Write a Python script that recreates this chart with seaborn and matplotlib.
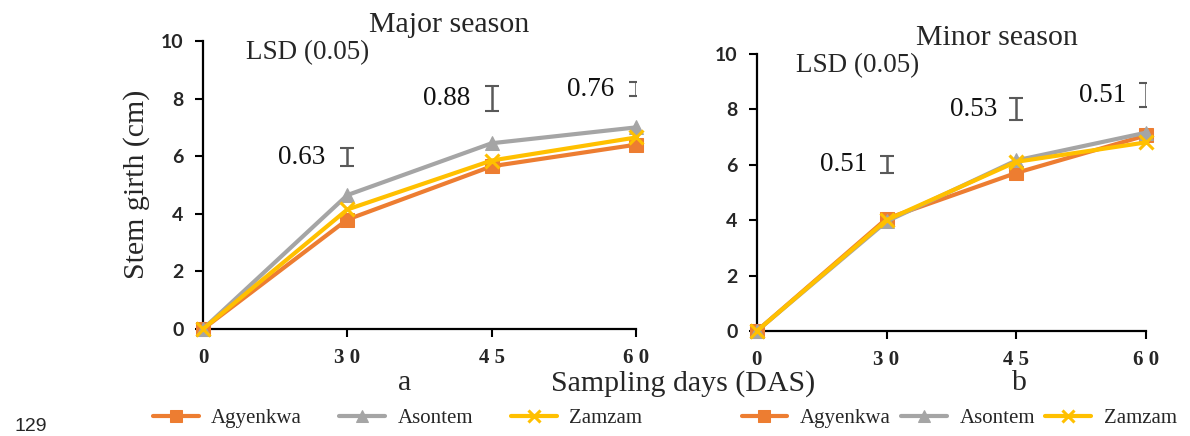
import matplotlib
matplotlib.use("Agg")
import matplotlib.pyplot as plt
import seaborn as sns
import pandas as pd
import numpy as np

days = ["0", "30", "45", "60"]
day_tick_labels = ["0", "3 0", "4 5", "6 0"]
varieties = ["Agyenkwa", "Asontem", "Zamzam"]
colors = ["#ED7D31", "#A5A5A5", "#FFC000"]
markers = ["s", "^", "x"]

major_agyenkwa = [0, 3.8, 5.65, 6.4]
major_asontem = [0, 4.65, 6.45, 7.0]
major_zamzam = [0, 4.15, 5.85, 6.65]

minor_agyenkwa = [0, 4.05, 5.7, 7.05]
minor_asontem = [0, 3.95, 6.15, 7.15]
minor_zamzam = [0, 4.0, 6.1, 6.8]

major_lsd_labels = ["0.63", "0.88", "0.76"]
major_lsd_center = [5.97, 8.0, 8.33]
major_lsd_len = [0.62, 0.87, 0.5]
minor_lsd_labels = ["0.51", "0.53", "0.51"]
minor_lsd_center = [6.0, 8.0, 8.5]
minor_lsd_len = [0.64, 0.8, 0.86]

sns.set_style("white")
plt.rcParams["font.family"] = ["Liberation Serif", "DejaVu Sans"]

fig = plt.figure(figsize=(11.9, 4.36), dpi=100)
axL = fig.add_axes([0.1706, 0.2454, 0.3639, 0.6606])
axR = fig.add_axes([0.636, 0.2408, 0.327, 0.6362])


def draw(ax, series, lsd_labels, lsd_center, lsd_len, title, title_y, lsd_text_x, lsd_text_y):
    for name, vals, c, m in zip(varieties, series, colors, markers):
        df = pd.DataFrame({"pos": np.arange(len(days)), "girth": vals})
        if m == "x":
            kw = dict(marker="x", markersize=10, markeredgewidth=2.2, markeredgecolor=c)
        else:
            kw = dict(marker=m, markersize=10, markeredgecolor=c)
        sns.lineplot(data=df, x="pos", y="girth", ax=ax, color=c, linewidth=3,
                     label=name, clip_on=False, zorder=3, **kw)
    pos = np.arange(1, len(days))
    ax.errorbar(pos, lsd_center, yerr=np.array(lsd_len) / 2, fmt="none",
                ecolor="#595959", elinewidth=1.8, capsize=5, capthick=1.5, zorder=2)
    for p, lab, cy in zip(pos, lsd_labels, lsd_center):
        ax.text(p - 0.15, cy, lab, ha="right", va="center", fontsize=19.5, color="#111111")
    ax.text(lsd_text_x, lsd_text_y, "LSD (0.05)", ha="left", va="center", fontsize=19.5,
            transform=ax.transData)
    ax.set_xlim(0, 3)
    ax.set_ylim(0, 10)
    ax.set_xticks(np.arange(len(days)))
    ax.set_xticklabels(day_tick_labels)
    ax.set_yticks([0, 2, 4, 6, 8, 10])
    for t in ax.get_yticklabels():
        t.set_fontfamily("Lato")
        t.set_fontweight("bold")
        t.set_fontsize(14)
    for t in ax.get_xticklabels():
        t.set_fontweight("bold")
        t.set_fontsize(15)
    ax.set_xlabel("")
    ax.set_ylabel("")
    for s in ["top", "right"]:
        ax.spines[s].set_visible(False)
    for s in ["left", "bottom"]:
        ax.spines[s].set_color("black")
        ax.spines[s].set_linewidth(1.6)
    ax.tick_params(axis="both", which="major", direction="out", length=6, width=1.5,
                   color="black", left=True, bottom=True)
    ax.tick_params(axis="x", pad=8)
    ax.tick_params(axis="y", pad=8)
    ax.get_legend().remove()
    fig.text(title[1], title_y, title[0], ha="center", va="center", fontsize=21.5)


draw(axL, [major_agyenkwa, major_asontem, major_zamzam], major_lsd_labels,
     major_lsd_center, major_lsd_len, ("Major season", 0.377), 0.942, 0.3, 9.6)
draw(axR, [minor_agyenkwa, minor_asontem, minor_zamzam], minor_lsd_labels,
     minor_lsd_center, minor_lsd_len, ("Minor season", 0.838), 0.912, 0.3, 9.55)

fig.text(0.115, 0.578, "Stem girth (cm)", rotation=90, ha="center", va="center", fontsize=21.5)
fig.text(0.574, 0.121, "Sampling days (DAS)", ha="center", va="center", fontsize=21.5)
fig.text(0.340, 0.121, "a", ha="center", va="center", fontsize=21.5)
fig.text(0.857, 0.121, "b", ha="center", va="center", fontsize=21.5)
fig.text(0.012, 0.002, "129", ha="left", va="bottom", fontsize=14, family="Liberation Sans")

hL, lL = axL.get_legend_handles_labels()
hR, lR = axR.get_legend_handles_labels()
fig.legend(hL, lL, ncol=3, loc="center", bbox_to_anchor=(0.334, 0.041), frameon=False,
           fontsize=15, handlelength=2.2, columnspacing=1.8, handletextpad=0.6,
           markerscale=0.8)
fig.legend(hR, lR, ncol=3, loc="center", bbox_to_anchor=(0.806, 0.041), frameon=False,
           fontsize=15, handlelength=2.2, columnspacing=0.5, handletextpad=0.6,
           markerscale=0.8)

fig.savefig("out.png", dpi=100)
